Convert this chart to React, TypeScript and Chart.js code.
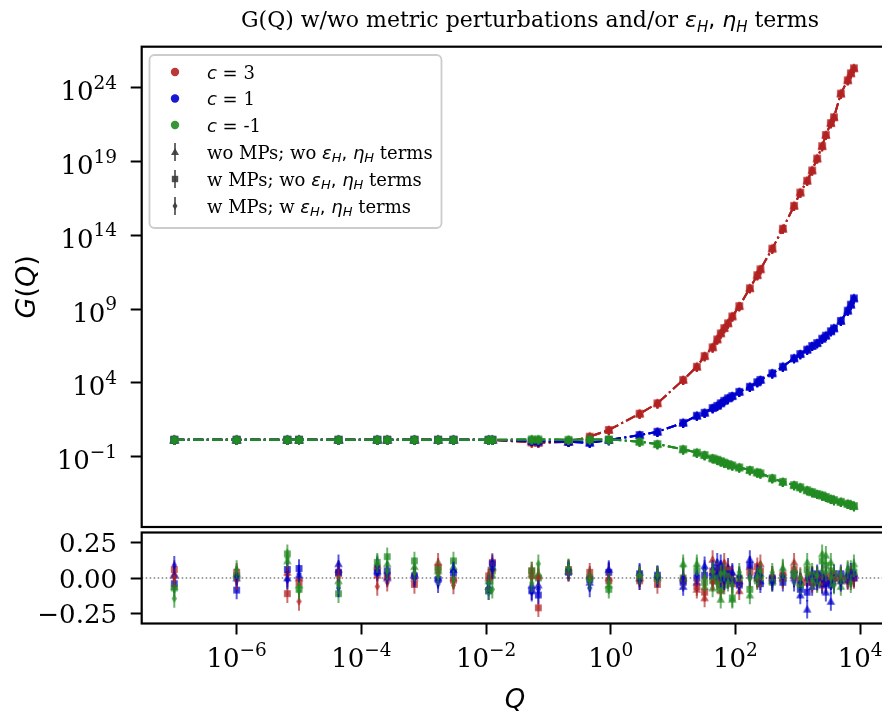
import React, { useEffect, useRef } from 'react';
import { Chart, registerables } from 'chart.js';

Chart.register(...registerables);

// ---------------- DATA ----------------
const Q_VALUES = [1e-7, 1e-6, 6.5e-6, 1e-5, 4.3e-5, 1.8e-4, 2.6e-4, 7.1e-4, 1.7e-3, 3.0e-3, 1.1e-2, 1.26e-2, 5.4e-2, 6.9e-2, 0.21, 0.46, 0.93, 2.9, 5.6, 14.5, 24, 32, 43, 51, 58, 66, 76, 89, 115, 170, 224, 251, 389, 575, 871, 1096, 1413, 1698, 2042, 2455, 2818, 3388, 3802, 4898, 6310, 7079, 7943];

const G_C3 = [1.41, 1.41, 1.41, 1.41, 1.41, 1.41, 1.41, 1.41, 1.41, 1.41, 1.38, 1.38, 0.95, 0.89, 1.0, 2.3, 6.5, 83, 417, 1.6e4, 1.26e5, 6.6e5, 2.6e6, 8.9e6, 2.3e7, 5.2e7, 1.1e8, 3.2e8, 1.6e9, 2.6e10, 2.0e11, 5.0e11, 1.26e13, 2.8e14, 1.0e16, 7.9e16, 5.0e17, 2.5e18, 1.6e19, 1.1e20, 6.3e20, 4.0e21, 1.0e22, 4.0e23, 3.2e24, 9.5e24, 2.1e25];
const G_C1 = [1.41, 1.41, 1.41, 1.41, 1.41, 1.41, 1.41, 1.41, 1.41, 1.41, 1.41, 1.41, 1.2, 1.12, 1.05, 0.89, 1.35, 2.95, 4.9, 20, 60, 95, 200, 282, 417, 617, 912, 1290, 2500, 5500, 1.12e4, 1.6e4, 4.5e4, 1.26e5, 4.7e5, 9.1e5, 1.8e6, 3.2e6, 5.0e6, 1.0e7, 1.6e7, 3.2e7, 5.0e7, 1.6e8, 7.9e8, 2.0e9, 5.4e9];
const G_CM1 = [1.41, 1.41, 1.41, 1.41, 1.41, 1.41, 1.41, 1.41, 1.41, 1.41, 1.41, 1.41, 1.5, 1.5, 1.41, 1.5, 1.5, 1.05, 0.72, 0.32, 0.19, 0.13, 0.079, 0.063, 0.05, 0.04, 0.032, 0.026, 0.019, 0.0126, 0.0087, 0.0076, 0.0035, 0.002, 0.0012, 8.5e-4, 5.4e-4, 4.0e-4, 3.0e-4, 2.4e-4, 1.9e-4, 1.4e-4, 1.17e-4, 8.9e-5, 6.6e-5, 5.5e-5, 4.6e-5];

// residuals: (triangle = wo MPs; wo terms), (square = w MPs; wo terms), (diamond = w MPs; w terms)
const RES_C3_TRI = [0.03, 0.02, 0.04, 0.0, 0.06, 0.02, 0.01, 0.0, 0.11, 0.0, 0.0, 0.07, 0.03, 0.015, 0.05, 0.02, 0.0, 0.0, 0.0, 0.0, -0.08, -0.14, 0.13, 0.0, -0.09, 0.11, 0.02, 0.0, -0.09, 0.08, 0.05, 0.1, 0.0, 0.04, 0.11, -0.03, 0.0, 0.0, -0.03, -0.04, 0.0, -0.02, 0.0, -0.02, 0.01, 0.0, 0.0];
const RES_C3_SQ = [0.06, 0.04, -0.11, -0.03, 0.03, 0.07, 0.02, -0.045, 0.075, -0.015, 0.015, 0.11, 0.05, -0.21, 0.06, 0.04, -0.02, -0.02, -0.045, -0.02, -0.06, -0.1, 0.05, -0.02, -0.05, 0.06, 0.06, -0.04, -0.04, 0.04, 0.08, 0.05, -0.01, 0.02, 0.06, -0.02, -0.03, 0.02, 0.02, -0.02, -0.03, 0.01, 0.01, 0.0, -0.02, -0.02, 0.01];
const RES_C3_DIA = [0.0, -0.02, 0.02, -0.165, 0.0, -0.06, -0.03, 0.01, 0.03, -0.05, -0.02, 0.05, 0.0, 0.0, 0.04, 0.0, 0.03, 0.01, 0.01, 0.01, -0.02, 0.0, -0.03, 0.04, 0.02, -0.03, 0.0, 0.02, 0.0, 0.0, -0.01, 0.0, 0.02, -0.01, 0.0, 0.01, 0.02, -0.04, 0.0, 0.01, 0.02, 0.0, -0.02, 0.01, 0.0, 0.02, -0.01];
const RES_C1_TRI = [0.02, 0.0, 0.0, 0.02, 0.1, 0.05, 0.0, 0.03, 0.0, 0.06, -0.06, 0.08, -0.05, -0.05, 0.05, -0.03, 0.06, 0.04, 0.025, -0.06, -0.03, 0.086, 0.04, 0.11, 0.1, 0.04, 0.075, 0.04, -0.02, 0.13, 0.02, -0.02, -0.02, 0.0, 0.0, -0.12, -0.22, -0.06, 0.01, -0.05, -0.1, -0.165, 0.0, 0.01, 0.03, 0.02, 0.03];
const RES_C1_SQ = [-0.04, -0.085, 0.06, 0.067, 0.04, 0.04, 0.05, 0.015, -0.01, 0.035, -0.09, 0.1, -0.09, -0.12, 0.04, -0.01, 0.04, 0.03, 0.02, -0.03, 0.0, 0.02, 0.01, 0.07, 0.06, 0.0, 0.03, -0.02, -0.05, 0.09, 0.0, -0.04, 0.0, -0.03, 0.02, -0.08, -0.1, -0.03, 0.03, 0.0, -0.04, -0.05, 0.03, 0.03, -0.01, 0.04, 0.0];
const RES_C1_DIA = [0.09, 0.01, -0.015, 0.03, -0.07, 0.08, 0.02, 0.0, -0.04, 0.05, -0.04, 0.06, -0.1, -0.08, 0.06, -0.07, 0.05, -0.02, 0.0, 0.0, 0.02, 0.06, 0.06, 0.03, 0.0, -0.02, -0.01, 0.03, 0.01, 0.01, 0.03, 0.02, -0.03, 0.01, -0.03, -0.03, 0.0, 0.01, -0.02, 0.03, 0.0, -0.02, -0.04, -0.03, 0.02, 0.0, 0.04];
const RES_CM1_TRI = [-0.06, 0.03, 0.12, -0.05, -0.02, 0.09, 0.1, 0.08, 0.05, 0.08, -0.02, 0.02, 0.02, 0.03, 0.07, 0.01, -0.05, 0.0, 0.01, 0.1, 0.1, -0.06, -0.07, 0.06, -0.15, 0.0, 0.02, -0.15, 0.02, -0.12, 0.0, 0.03, 0.02, 0.07, 0.06, -0.03, 0.11, 0.04, 0.0, 0.17, 0.16, 0.11, 0.0, -0.06, 0.05, 0.06, 0.1];
const RES_CM1_SQ = [-0.07, 0.015, 0.17, -0.08, -0.11, 0.11, 0.15, 0.12, 0.06, 0.12, -0.09, 0.05, 0.05, 0.0, 0.05, 0.0, -0.08, 0.01, 0.0, 0.0, 0.05, -0.03, -0.02, 0.02, -0.08, -0.05, 0.01, -0.14, 0.0, -0.08, -0.02, 0.0, -0.03, 0.0, 0.03, -0.05, 0.06, 0.02, -0.04, 0.12, 0.09, 0.05, 0.03, -0.02, 0.0, 0.03, 0.04];
const RES_CM1_DIA = [-0.145, 0.06, 0.14, -0.09, -0.05, 0.1, 0.05, 0.04, 0.015, -0.01, -0.035, -0.08, -0.035, 0.1, 0.07, -0.02, -0.03, 0.02, 0.02, 0.08, 0.08, 0.0, 0.05, -0.04, 0.03, 0.04, -0.03, -0.05, 0.04, 0.0, 0.01, 0.05, 0.04, 0.06, 0.01, 0.0, 0.03, -0.02, 0.02, 0.05, 0.04, 0.0, -0.05, 0.02, 0.06, -0.04, 0.07];

const RES_ERR = 0.065;      // residual error bar half-length
const G_REL_ERR = 0.55;     // relative error of G in the main panel

const SERIES_LABELS = ['c = 3', 'c = 1', 'c = -1'];
const SERIES_VALUES = ['3', '1', '-1'];
const VARIANT_LABELS = ['wo MPs; wo', 'w MPs; wo', 'w MPs; w'];

const X_TICKS = [1e-6, 1e-4, 1e-2, 1, 1e2, 1e4];
const Y_TICKS_MAIN = [1e-1, 1e4, 1e9, 1e14, 1e19, 1e24];
const Y_TICKS_RES = [-0.25, 0, 0.25];

// ---------------- STYLE ----------------
const COLORS = ['#b22222', '#0000cd', '#228b22'];
const SHAPES = ['tri', 'sq', 'dia'];
const SERIF = '"DejaVu Serif", serif';
const SANS = '"DejaVu Sans", sans-serif';
const TICK_FS = 26;
const EXP_FS = 18.5;

function rgba(hex: string, a: number) {
  const n = parseInt(hex.slice(1), 16);
  return `rgba(${(n >> 16) & 255},${(n >> 8) & 255},${n & 255},${a})`;
}

function makeMarker(shape: string, color: string, alpha: number, size: number) {
  const s = Math.ceil(size) + 2;
  const c = document.createElement('canvas');
  c.width = s;
  c.height = s;
  const ctx = c.getContext('2d') as CanvasRenderingContext2D;
  ctx.fillStyle = rgba(color, alpha);
  const m = s / 2;
  const h = size / 2;
  ctx.beginPath();
  if (shape === 'tri') {
    ctx.moveTo(m, m - h);
    ctx.lineTo(m + h, m + h * 0.75);
    ctx.lineTo(m - h, m + h * 0.75);
  } else if (shape === 'sq') {
    ctx.rect(m - h * 0.8, m - h * 0.8, h * 1.6, h * 1.6);
  } else if (shape === 'dia') {
    ctx.moveTo(m, m - h);
    ctx.lineTo(m + h * 0.62, m);
    ctx.lineTo(m, m + h);
    ctx.lineTo(m - h * 0.62, m);
  } else {
    ctx.arc(m, m, h, 0, Math.PI * 2);
  }
  ctx.closePath();
  ctx.fill();
  return c;
}

type Run = { t: string; f: string; dy?: number };
function drawRuns(ctx: CanvasRenderingContext2D, runs: Run[], x: number, y: number, align: string) {
  let w = 0;
  for (const r of runs) {
    ctx.font = r.f;
    w += ctx.measureText(r.t).width;
  }
  let cx = align === 'left' ? x : align === 'center' ? x - w / 2 : x - w;
  ctx.textAlign = 'left';
  ctx.textBaseline = 'alphabetic';
  for (const r of runs) {
    ctx.font = r.f;
    ctx.fillText(r.t, cx, y + (r.dy || 0));
    cx += ctx.measureText(r.t).width;
  }
}

function pow10Runs(v: number): Run[] {
  const e = Math.round(Math.log10(v));
  const es = e < 0 ? '\u2212' + Math.abs(e) : String(e);
  return [
    { t: '10', f: `${TICK_FS}px ${SERIF}` },
    { t: es, f: `${EXP_FS}px ${SERIF}`, dy: -11.5 },
  ];
}

function mathTermsRuns(prefix: string, fs: number): Run[] {
  const sub = Math.round(fs * 0.7);
  return [
    { t: prefix + ' ', f: `${fs}px ${SERIF}` },
    { t: '\u03b5', f: `italic ${fs}px ${SANS}` },
    { t: 'H', f: `italic ${sub}px ${SANS}`, dy: fs * 0.22 },
    { t: ', ', f: `${fs}px ${SANS}` },
    { t: '\u03b7', f: `italic ${fs}px ${SANS}` },
    { t: 'H', f: `italic ${sub}px ${SANS}`, dy: fs * 0.22 },
    { t: ' terms', f: `${fs}px ${SERIF}` },
  ];
}

const PLOT_LEFT = 141.7;
const MAIN_TOP = 46.7;
const MAIN_BOTTOM = 527;
const RES_TOP = 532.5;
const RES_BOTTOM = 623.5;
const PLOT_RIGHT = 889;
const CANVAS_W = 900;
const CANVAS_H = 715;
const X_MIN = 3.1e-8;
const X_MAX = 2.9e4;

const errorBarPlugin = {
  id: 'errbars',
  beforeDatasetDraw(chart: any, args: any) {
    const ds = chart.data.datasets[args.index];
    if (!ds.errLo) return;
    const { ctx, chartArea: a } = chart;
    const x = chart.scales.x;
    const y = chart.scales.y;
    ctx.save();
    ctx.beginPath();
    ctx.rect(a.left, a.top, a.right - a.left, a.bottom - a.top);
    ctx.clip();
    ctx.strokeStyle = ds.errColor;
    ctx.lineWidth = ds.errWidth || 1.8;
    ds.data.forEach((p: any, i: number) => {
      const px = x.getPixelForValue(p.x);
      ctx.beginPath();
      ctx.moveTo(px, y.getPixelForValue(ds.errLo[i]));
      ctx.lineTo(px, y.getPixelForValue(ds.errHi[i]));
      ctx.stroke();
    });
    ctx.restore();
  },
};

function drawFrame(ctx: CanvasRenderingContext2D, a: any) {
  ctx.save();
  ctx.strokeStyle = '#000';
  ctx.lineWidth = 2.2;
  ctx.strokeRect(a.left, a.top, a.right - a.left, a.bottom - a.top);
  ctx.restore();
}

const mainDecor = {
  id: 'mainDecor',
  afterDraw(chart: any) {
    const { ctx, chartArea: a } = chart;
    const ys = chart.scales.y;
    drawFrame(ctx, a);
    ctx.save();
    ctx.fillStyle = '#000';
    // y tick labels
    ys.ticks.forEach((t: any) => {
      const py = ys.getPixelForValue(t.value);
      drawRuns(ctx, pow10Runs(t.value), 117, py + 12.5, 'right');
    });
    // y axis title
    ctx.save();
    ctx.translate(25, (a.top + a.bottom) / 2);
    ctx.rotate(-Math.PI / 2);
    drawRuns(ctx, [
      { t: 'G', f: `italic 27px ${SANS}` },
      { t: '(', f: `27px ${SANS}` },
      { t: 'Q', f: `italic 27px ${SANS}` },
      { t: ')', f: `27px ${SANS}` },
    ], 0, 10, 'center');
    ctx.restore();
    // title
    const titleRuns = mathTermsRuns('G(Q) w/wo metric perturbations and/or', 22);
    drawRuns(ctx, titleRuns, 530, 27, 'center');

    // legend
    const lx = 149.5, ly = 55, lw = 292, lh = 173;
    ctx.beginPath();
    (ctx as any).roundRect(lx, ly, lw, lh, 5);
    ctx.fillStyle = 'rgba(255,255,255,0.8)';
    ctx.fill();
    ctx.strokeStyle = '#cccccc';
    ctx.lineWidth = 1.8;
    ctx.stroke();
    const rowY = [72, 98.5, 125, 152, 179, 206];
    const mx = 175, tx = 207;
    SERIES_LABELS.forEach((lab, i) => {
      ctx.beginPath();
      ctx.arc(mx, rowY[i], 4.2, 0, Math.PI * 2);
      ctx.fillStyle = rgba(COLORS[i], 0.9);
      ctx.fill();
      ctx.fillStyle = '#000';
      drawRuns(ctx, [
        { t: 'c', f: `italic 18px ${SANS}` },
        { t: ' = ', f: `18px ${SANS}` },
        { t: SERIES_VALUES[i], f: `18px ${SERIF}` },
      ], tx, rowY[i] + 6.5, 'left');
      void lab;
    });
    VARIANT_LABELS.forEach((lab, j) => {
      const yy = rowY[3 + j];
      ctx.strokeStyle = 'rgba(60,60,60,0.85)';
      ctx.lineWidth = 1.8;
      ctx.beginPath();
      ctx.moveTo(mx, yy - 9);
      ctx.lineTo(mx, yy + 9);
      ctx.stroke();
      const mk = makeMarker(SHAPES[j], '#3c3c3c', 0.9, 8);
      ctx.drawImage(mk, mx - mk.width / 2, yy - mk.height / 2);
      ctx.fillStyle = '#000';
      drawRuns(ctx, mathTermsRuns(lab, 18), tx, yy + 6.5, 'left');
    });
    ctx.restore();
  },
};

const resDecor = {
  id: 'resDecor',
  beforeDatasetsDraw(chart: any) {
    const { ctx, chartArea: a } = chart;
    const y0 = chart.scales.y.getPixelForValue(0);
    ctx.save();
    ctx.strokeStyle = 'rgba(40,40,40,0.9)';
    ctx.lineWidth = 1.2;
    ctx.setLineDash([1.5, 2.5]);
    ctx.beginPath();
    ctx.moveTo(a.left, y0);
    ctx.lineTo(a.right, y0);
    ctx.stroke();
    ctx.restore();
  },
  afterDraw(chart: any) {
    const { ctx, chartArea: a } = chart;
    const ys = chart.scales.y;
    const xs = chart.scales.x;
    drawFrame(ctx, a);
    ctx.save();
    ctx.fillStyle = '#000';
    ys.ticks.forEach((t: any) => {
      const py = ys.getPixelForValue(t.value);
      const s = t.value.toFixed(2).replace('-', '\u2212');
      drawRuns(ctx, [{ t: s, f: `${TICK_FS}px ${SERIF}` }], 117, py + 9.5, 'right');
    });
    xs.ticks.forEach((t: any) => {
      const px = xs.getPixelForValue(t.value);
      drawRuns(ctx, pow10Runs(t.value), px, 667, 'center');
    });
    drawRuns(ctx, [{ t: 'Q', f: `italic 26px ${SANS}` }], 515, 708, 'center');
    ctx.restore();
  },
};

const tickGrid = {
  display: true,
  drawOnChartArea: false,
  drawTicks: true,
  tickLength: 11,
  tickWidth: 2,
  tickColor: '#000',
  color: '#000',
};

export default function App() {
  const mainRef = useRef<HTMLCanvasElement>(null);
  const resRef = useRef<HTMLCanvasElement>(null);

  useEffect(() => {
    const G_SERIES = [G_C3, G_C1, G_CM1];
    const RES_SERIES = [
      [RES_C3_TRI, RES_C3_SQ, RES_C3_DIA],
      [RES_C1_TRI, RES_C1_SQ, RES_C1_DIA],
      [RES_CM1_TRI, RES_CM1_SQ, RES_CM1_DIA],
    ];

    // Chart.js draws dataset 0 on top, so push in reverse plotting order
    const mainDatasets: any[] = [];
    G_SERIES.forEach((g, ci) => {
      SHAPES.forEach((shape, si) => {
        mainDatasets.unshift({
          label: `${SERIES_LABELS[ci]} ${VARIANT_LABELS[si]}`,
          data: Q_VALUES.map((q, i) => ({ x: q, y: g[i] })),
          showLine: true,
          borderColor: rgba(COLORS[ci], 0.95),
          borderWidth: 2,
          borderDash: [10, 3.5, 2, 3.5],
          pointStyle: makeMarker(shape, COLORS[ci], 0.9, 9.5),
          pointRadius: 5,
          fill: false,
          tension: 0,
          errLo: g.map((v) => v * (1 - G_REL_ERR)),
          errHi: g.map((v) => v * (1 + G_REL_ERR)),
          errColor: rgba(COLORS[ci], 0.9),
          errWidth: 2,
        });
      });
    });

    const resDatasets: any[] = [];
    SHAPES.forEach((shape, si) => {
      RES_SERIES.forEach((rs, ci) => {
        const r = rs[si];
        resDatasets.unshift({
          label: `${SERIES_LABELS[ci]} ${VARIANT_LABELS[si]}`,
          data: Q_VALUES.map((q, i) => ({ x: q, y: r[i] })),
          showLine: false,
          pointStyle: makeMarker(shape, COLORS[ci], 0.75, 8.5),
          pointRadius: 4.5,
          errLo: r.map((v) => v - RES_ERR),
          errHi: r.map((v) => v + RES_ERR),
          errColor: rgba(COLORS[ci], 0.65),
          errWidth: 2,
        });
      });
    });

    const main = new Chart(mainRef.current as HTMLCanvasElement, {
      type: 'scatter',
      data: { datasets: mainDatasets },
      options: {
        animation: false,
        responsive: false,
        events: [],
        layout: { padding: { left: 0, top: MAIN_TOP, right: CANVAS_W - PLOT_RIGHT, bottom: CANVAS_H - MAIN_BOTTOM } },
        plugins: { legend: { display: false }, tooltip: { enabled: false }, title: { display: false } },
        scales: {
          x: { type: 'logarithmic', min: X_MIN, max: X_MAX, display: false },
          y: {
            type: 'logarithmic',
            position: 'left',
            min: 1.74e-6,
            max: 6.0e26,
            afterFit: (s: any) => { s.width = PLOT_LEFT; },
            afterBuildTicks: (s: any) => { s.ticks = Y_TICKS_MAIN.map((v) => ({ value: v })); },
            ticks: { callback: () => '', autoSkip: false },
            grid: tickGrid,
            border: { display: false },
          },
        },
      } as any,
      plugins: [errorBarPlugin, mainDecor],
    });

    const res = new Chart(resRef.current as HTMLCanvasElement, {
      type: 'scatter',
      data: { datasets: resDatasets },
      options: {
        animation: false,
        responsive: false,
        events: [],
        layout: { padding: { left: 0, top: RES_TOP, right: CANVAS_W - PLOT_RIGHT, bottom: 0 } },
        plugins: { legend: { display: false }, tooltip: { enabled: false }, title: { display: false } },
        scales: {
          x: {
            type: 'logarithmic',
            position: 'bottom',
            min: X_MIN,
            max: X_MAX,
            afterFit: (s: any) => { s.height = CANVAS_H - RES_BOTTOM; },
            afterBuildTicks: (s: any) => { s.ticks = X_TICKS.map((v) => ({ value: v })); },
            ticks: { callback: () => '', autoSkip: false, maxRotation: 0 },
            grid: tickGrid,
            border: { display: false },
          },
          y: {
            type: 'linear',
            position: 'left',
            min: -0.32,
            max: 0.32,
            afterFit: (s: any) => { s.width = PLOT_LEFT; },
            afterBuildTicks: (s: any) => { s.ticks = Y_TICKS_RES.map((v) => ({ value: v })); },
            ticks: { callback: () => '', autoSkip: false },
            grid: tickGrid,
            border: { display: false },
          },
        },
      } as any,
      plugins: [errorBarPlugin, resDecor],
    });

    return () => {
      main.destroy();
      res.destroy();
    };
  }, []);

  const cstyle: React.CSSProperties = { position: 'absolute', left: 0, top: 0, width: CANVAS_W, height: CANVAS_H };
  return (
    <div style={{ position: 'fixed', left: 0, top: 0, width: 882, height: 715, overflow: 'hidden', background: '#fff' }}>
      <canvas ref={mainRef} width={CANVAS_W} height={CANVAS_H} style={cstyle} />
      <canvas ref={resRef} width={CANVAS_W} height={CANVAS_H} style={cstyle} />
    </div>
  );
}
